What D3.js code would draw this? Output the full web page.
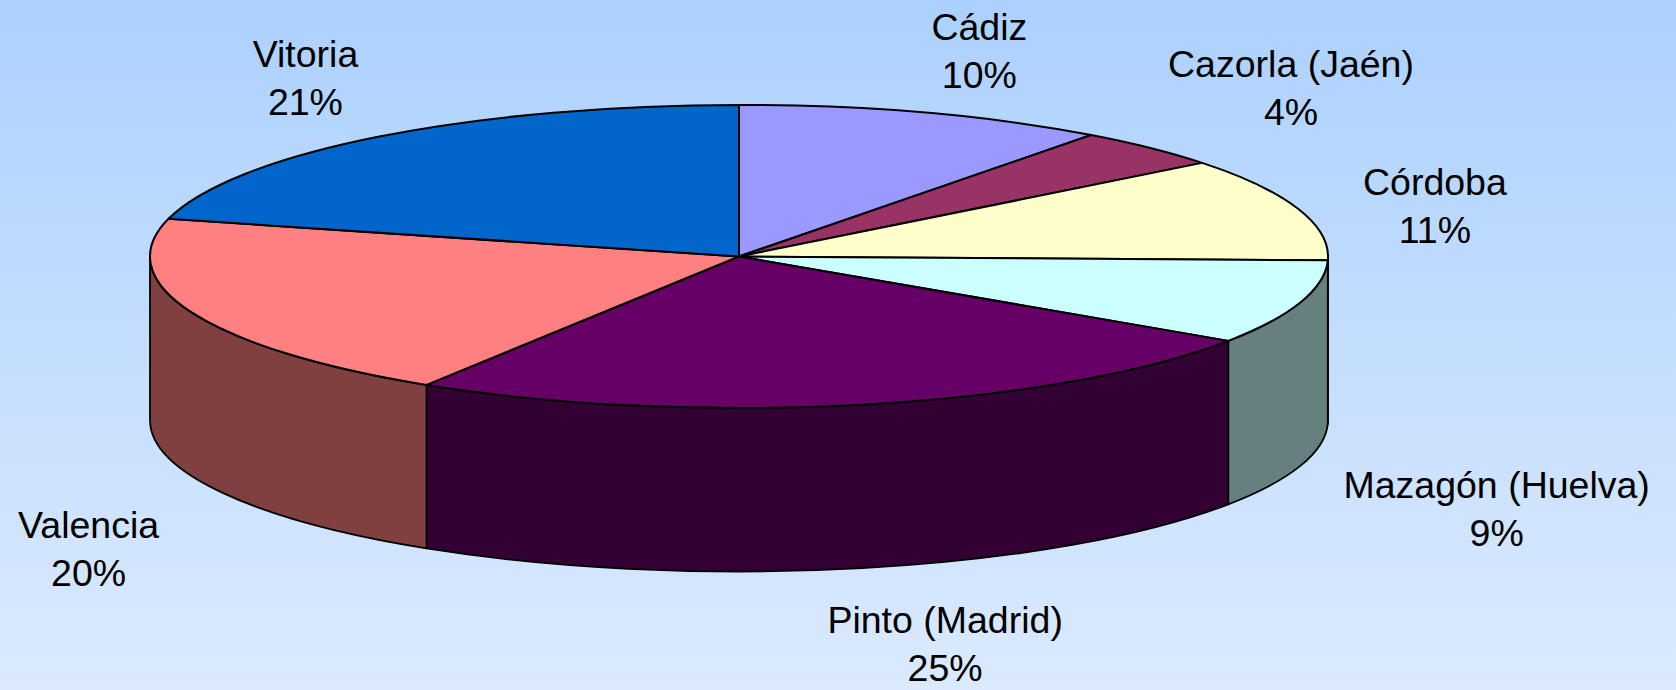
<!DOCTYPE html>
<html>
<head>
<meta charset="utf-8">
<script src="https://cdn.jsdelivr.net/npm/d3@7.9.0/dist/d3.min.js"></script>
<style>
  body { margin: 0; }
  svg { display: block; }
  .label { font-family: "Liberation Sans", Arial, sans-serif; font-size: 37.5px; fill: #000; }
</style>
</head>
<body>
<svg id="chart" width="1676" height="690"></svg>
<script>
// data (shares in %)
const places = ["Cádiz", "Cazorla (Jaén)", "Córdoba", "Mazagón (Huelva)", "Pinto (Madrid)", "Valencia", "Vitoria"];
const shares = [10.2, 4.2, 11.0, 9.0, 24.5, 20.1, 21.0];
const topColors = ["#9999ff", "#993366", "#ffffcc", "#ccffff", "#660066", "#ff8080", "#0066cc"];

// label nudges from the computed spot, by slice
const labelNudge = [[17, -5], [57, -18], [23, 16], [82, 24], [58, 17], [8, 50], [1, -12]];

const width = 1676, height = 690;
const cx = 739, cy = 256.5, rx = 589, ry = 151.5, depth = 163.5;

const svg = d3.select("#chart");

// background gradient
const grad = svg.append("defs").append("linearGradient")
  .attr("id", "bg").attr("x1", 0).attr("y1", 0).attr("x2", 0).attr("y2", 1);
grad.append("stop").attr("offset", 0).attr("stop-color", "#acd1fe");
grad.append("stop").attr("offset", 1).attr("stop-color", "#dbeafe");
svg.append("rect").attr("width", width).attr("height", height).attr("fill", "url(#bg)");

const data = places.map((p, i) => ({ place: p, value: shares[i], color: topColors[i] }));
const total = d3.sum(shares);

const pie = d3.pie().sort(null).value(d => d.value).startAngle(0).endAngle(2 * Math.PI);
const arcs = pie(data);

// angle measured clockwise from 12 o'clock
const px = a => cx + rx * Math.sin(a);
const py = (a, dz = 0) => cy - ry * Math.cos(a) + dz;

function topPath(a0, a1) {
  const large = a1 - a0 > Math.PI ? 1 : 0;
  return `M${cx},${cy}L${px(a0)},${py(a0)}A${rx},${ry} 0 ${large} 1 ${px(a1)},${py(a1)}Z`;
}

function sidePath(a0, a1) {
  const large = a1 - a0 > Math.PI ? 1 : 0;
  return `M${px(a0)},${py(a0)}A${rx},${ry} 0 ${large} 1 ${px(a1)},${py(a1)}` +
    `L${px(a1)},${py(a1, depth)}A${rx},${ry} 0 ${large} 0 ${px(a0)},${py(a0, depth)}Z`;
}

function shade(c) {
  const col = d3.rgb(c);
  return d3.rgb(col.r * 0.5, col.g * 0.5, col.b * 0.5).formatHex();
}

// side walls: only the front half (90deg..270deg) shows
const front = arcs
  .map(d => ({ d, a0: Math.max(d.startAngle, Math.PI / 2), a1: Math.min(d.endAngle, 3 * Math.PI / 2) }))
  .filter(s => s.a1 > s.a0);

svg.append("g").selectAll("path")
  .data(front)
  .join("path")
  .attr("d", s => sidePath(s.a0, s.a1))
  .attr("fill", s => shade(s.d.data.color))
  .attr("stroke", "#000")
  .attr("stroke-width", 1.8)
  .attr("stroke-linejoin", "round");

svg.append("g").selectAll("path")
  .data(arcs)
  .join("path")
  .attr("d", d => topPath(d.startAngle, d.endAngle))
  .attr("fill", d => d.data.color)
  .attr("stroke", "#000")
  .attr("stroke-width", 2)
  .attr("stroke-linejoin", "round");

// labels outside the rim
svg.append("g").selectAll("text")
  .data(arcs)
  .join("text")
  .attr("class", "label")
  .attr("text-anchor", "middle")
  .each(function (d, i) {
    const a = (d.startAngle + d.endAngle) / 2;
    let x = cx + (rx + 120) * Math.sin(a);
    let y = cy - (ry + 60) * Math.cos(a) + (Math.cos(a) < 0 ? depth : 0);
    x += labelNudge[i][0];
    y += labelNudge[i][1];
    const t = d3.select(this);
    t.append("tspan").attr("x", x).attr("y", y - 10.5).text(d.data.place);
    t.append("tspan").attr("x", x).attr("y", y + 37.5).text(Math.round(d.data.value * 100 / total) + "%");
  });
</script>
</body>
</html>
